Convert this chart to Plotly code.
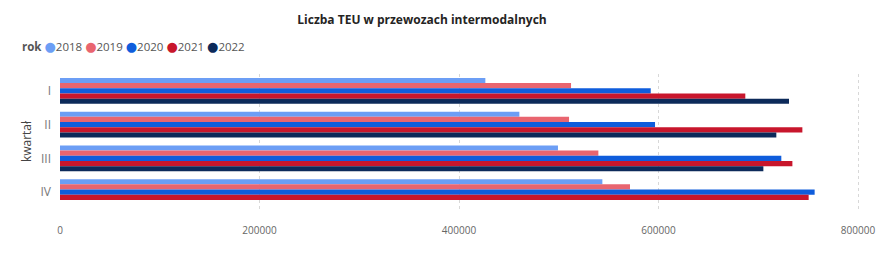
import plotly.graph_objects as go

quarters = ["I", "II", "III", "IV"]
years = ["2018", "2019", "2020", "2021", "2022"]
v2018 = [426400, 460500, 499200, 543700]
v2019 = [512300, 510300, 539700, 571400]
v2020 = [592200, 596500, 723100, 756500]
v2021 = [687000, 744200, 734200, 750500]
v2022 = [730800, 718100, 705100, None]
series = [v2018, v2019, v2020, v2021, v2022]
colors = ["#6C9EF5", "#E9656F", "#0F5DDC", "#C8162C", "#0C2A5A"]
x_ticks = [0, 200000, 400000, 600000, 800000]

fig = go.Figure()
for yr, vals, col in zip(years, series, colors):
    fig.add_trace(go.Bar(y=quarters, x=vals, name=yr, orientation="h",
                         marker=dict(color=col, line=dict(width=0)),
                         showlegend=False))

legend_txt = "<b>rok</b> " + " ".join(
    f"<span style='color:{c};font-size:13px'>●</span>{y}" for y, c in zip(years, colors))

fig.update_layout(
    width=887, height=265,
    margin=dict(l=60, r=17, t=74, b=56),
    paper_bgcolor="white", plot_bgcolor="white",
    barmode="group", bargap=0.23, bargroupgap=0,
    font=dict(family="Open Sans, DejaVu Sans, sans-serif", color="#666"),
    title=dict(text="<b>Liczba TEU w przewozach intermodalnych</b>",
               x=422 / 887, xanchor="center", y=1 - 20 / 265, yanchor="middle",
               font=dict(size=12, color="#252423")),
    annotations=[dict(text=legend_txt, xref="paper", yref="paper",
                      x=-40 / 810, y=1 + 28 / 135, xanchor="left", yanchor="middle",
                      showarrow=False, font=dict(size=11.5, color="#555"))],
    xaxis=dict(range=[0, 812000], tickvals=x_ticks,
               ticktext=[str(t) for t in x_ticks],
               showgrid=True, gridcolor="#d8d8d8", griddash="dot", gridwidth=1,
               zeroline=False, showline=False,
               tickfont=dict(size=10, color="#666"), ticklabelstandoff=14),
    yaxis=dict(categoryorder="array", categoryarray=quarters, autorange="reversed",
               showgrid=False, zeroline=False, showline=False,
               tickfont=dict(size=12, color="#777"), ticklabelstandoff=8,
               title=dict(text="kwartał", font=dict(size=12, color="#444"),
                          standoff=6)),
)

fig.write_html("out.html")
